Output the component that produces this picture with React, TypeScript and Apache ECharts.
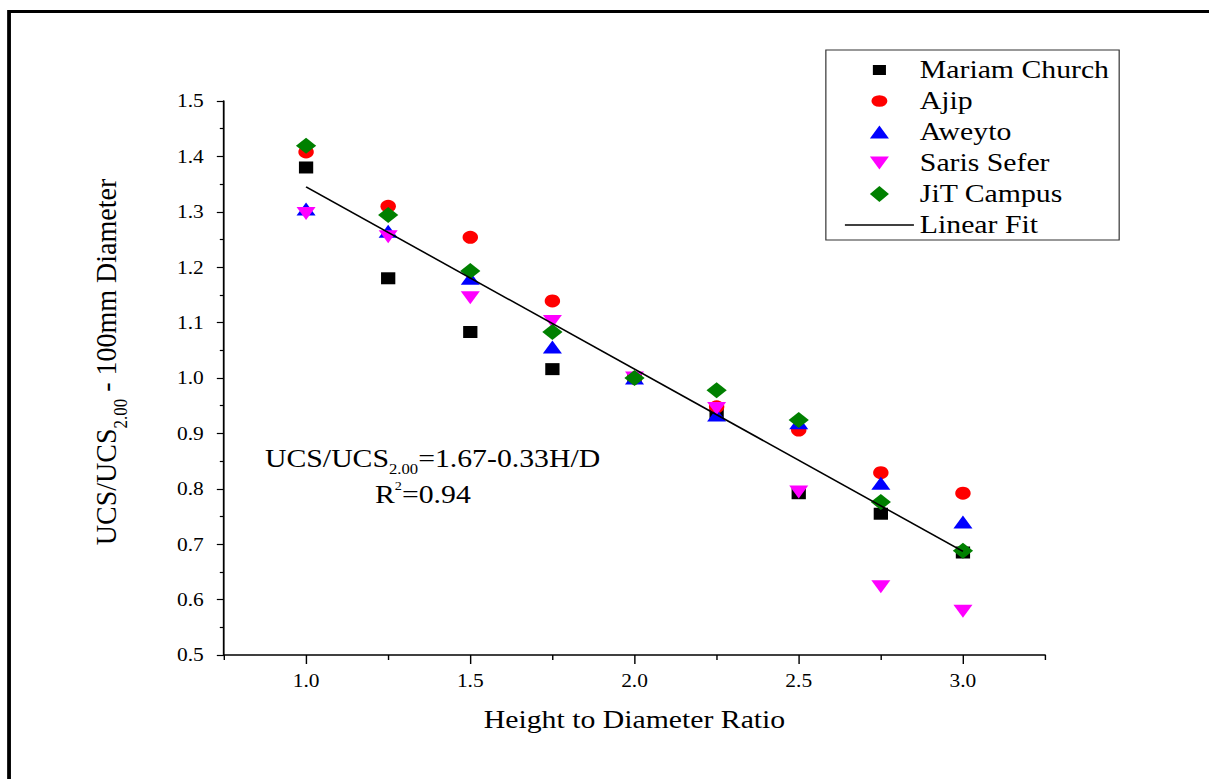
import React, { useEffect, useRef } from "react";
import * as echarts from "echarts";

// The reference picture is horizontally stretched; the chart is drawn at its
// natural width and stretched with a CSS transform.
const STRETCH = 1.19;
const W = 1016;
const H = 779;

const heightToDiameter = [1.0, 1.25, 1.5, 1.75, 2.0, 2.25, 2.5, 2.75, 3.0];
const mariamChurch = [1.38, 1.18, 1.083, 1.016, 1.0, 0.934, 0.792, 0.755, 0.685];
const ajip = [1.408, 1.31, 1.254, 1.139, 1.0, 0.948, 0.906, 0.829, 0.792];
const aweyto = [1.305, 1.265, 1.18, 1.056, 1.0, 0.933, 0.919, 0.81, 0.74];
const sarisSefer = [1.297, 1.255, 1.145, 1.102, 1.0, 0.945, 0.794, 0.623, 0.579];
const jitCampus = [1.419, 1.294, 1.193, 1.083, 1.0, 0.978, 0.924, 0.776, 0.688];

const fitX = [1.0, 3.0];
const fitY = [1.345, 0.687];

const xMajorTicks = [1.0, 1.5, 2.0, 2.5, 3.0];
const seriesNames = ["Mariam Church", "Ajip", "Aweyto", "Saris Sefer", "JiT Campus", "Linear Fit"];

const FONT = "Liberation Serif";

// legend icons (drawn in a 16x16 box so that each keeps its own size)
const ICON_SQUARE = "path://M0,0M16,16M2.5,3L13.5,3L13.5,13L2.5,13Z";
const ICON_CIRCLE = "path://M0,0M16,16M1.3,8A6.7,5.85 0 1 1 14.7,8A6.7,5.85 0 1 1 1.3,8Z";
const ICON_UP = "path://M0,0M16,16M8,1.5L16,14.5L0,14.5Z";
const ICON_DOWN = "path://M0,0M16,16M0,1.5L16,1.5L8,14.5Z";
const ICON_DIAMOND = "path://M8,0L16,8L8,16L0,8Z";
const ICON_LINE = "path://M0,0L58,0L58,1.5L0,1.5Z";
const legendIcons = [ICON_SQUARE, ICON_CIRCLE, ICON_UP, ICON_DOWN, ICON_DIAMOND, ICON_LINE];

function pairs(ys: number[]) {
  return heightToDiameter.map((x, i) => [x, ys[i]]);
}

function buildOption() {
  const tickLine = { color: "#000", width: 1.2 };
  return {
    animation: false,
    backgroundColor: "#ffffff",
    textStyle: { fontFamily: FONT, color: "#000" },
    grid: { left: 188.2, right: W - 878.2, top: 101, bottom: 124, containLabel: false },
    legend: {
      orient: "vertical",
      left: 694,
      top: 50,
      padding: [7.5, 8.5, 2.5, 16],
      itemGap: 6,
      itemWidth: 58,
      itemHeight: 16,
      symbolKeepAspect: true,
      borderColor: "#333",
      borderWidth: 1,
      selectedMode: false,
      data: seriesNames.map((name, i) => ({ name, icon: legendIcons[i] })),
      textStyle: { fontFamily: FONT, fontSize: 25, lineHeight: 25, color: "#000" },
    },
    xAxis: [
      {
        type: "value",
        position: "bottom",
        min: 0.75,
        max: 3.25,
        interval: 0.25,
        axisLine: { show: true, onZero: false, lineStyle: { color: "#000", width: 1.5 } },
        axisTick: { show: true, inside: false, length: 9, customValues: xMajorTicks, lineStyle: tickLine },
        axisLabel: {
          show: true,
          customValues: xMajorTicks,
          margin: 17,
          fontFamily: FONT,
          fontSize: 18,
          color: "#000",
          formatter: (v: number) => v.toFixed(1),
        },
        splitLine: { show: false },
        name: "Height to Diameter Ratio",
        nameLocation: "middle",
        nameGap: 52,
        nameTextStyle: { fontFamily: FONT, fontSize: 25, color: "#000" },
      },
      {
        type: "value",
        position: "bottom",
        min: 0.75,
        max: 3.25,
        interval: 0.5,
        axisLine: { show: false, onZero: false },
        axisTick: { show: true, inside: false, length: 5, lineStyle: tickLine },
        axisLabel: { show: false },
        splitLine: { show: false },
      },
    ],
    yAxis: {
      type: "value",
      min: 0.5,
      max: 1.5,
      interval: 0.1,
      axisLine: { show: true, onZero: false, lineStyle: { color: "#000", width: 1.5 } },
      axisTick: { show: true, inside: false, length: 6, lineStyle: tickLine },
      minorTick: { show: true, splitNumber: 2, length: 3.5, lineStyle: tickLine },
      axisLabel: {
        margin: 17,
        fontFamily: FONT,
        fontSize: 18,
        color: "#000",
        formatter: (v: number) => v.toFixed(1),
      },
      splitLine: { show: false },
      minorSplitLine: { show: false },
    },
    graphic: [
      {
        type: "rect",
        silent: true,
        shape: { x: 7.6, y: 11.5, width: 3000, height: 3000 },
        style: { fill: "none", stroke: "#000", lineWidth: 3.2 },
        z: 0,
      },
      {
        type: "text",
        x: 88.5,
        y: 362,
        rotation: Math.PI / 2,
        scaleY: 0.9,
        style: {
          text: "{a|UCS/UCS}{s|2.00}{a| - 100mm Diameter}",
          align: "center",
          verticalAlign: "middle",
          fontFamily: FONT,
          fontSize: 28,
          fill: "#000",
          rich: {
            a: { fontFamily: FONT, fontSize: 28, fill: "#000" },
            s: { fontFamily: FONT, fontSize: 17, fill: "#000", padding: [28, 0, 0, 0] },
          },
        },
      },
      {
        type: "text",
        x: 222.7,
        y: 459,
        style: {
          text: "{a|UCS/UCS}{s|2.00}{a|=1.67-0.33H/D}",
          align: "left",
          verticalAlign: "middle",
          fontFamily: FONT,
          fontSize: 25,
          fill: "#000",
          rich: {
            a: { fontFamily: FONT, fontSize: 25, fill: "#000" },
            s: { fontFamily: FONT, fontSize: 14, fill: "#000", padding: [20, 0, 0, 0] },
          },
        },
      },
      {
        type: "text",
        x: 315.1,
        y: 495,
        style: {
          text: "{a|R}{p|2}{a|=0.94}",
          align: "left",
          verticalAlign: "middle",
          fontFamily: FONT,
          fontSize: 25,
          fill: "#000",
          rich: {
            a: { fontFamily: FONT, fontSize: 25, fill: "#000" },
            p: { fontFamily: FONT, fontSize: 12, fill: "#000", padding: [0, 0, 18, 0] },
          },
        },
      },
    ],
    series: [
      {
        name: "Mariam Church",
        type: "scatter",
        symbol: "rect",
        symbolSize: [12, 12],
        itemStyle: { color: "#000000", opacity: 1 },
        data: pairs(mariamChurch),
      },
      {
        name: "Ajip",
        type: "scatter",
        symbol: "circle",
        symbolSize: [13, 13],
        itemStyle: { color: "#ff0000", opacity: 1 },
        data: pairs(ajip),
      },
      {
        name: "Aweyto",
        type: "scatter",
        symbol: "triangle",
        symbolSize: [16, 13],
        itemStyle: { color: "#0000ff", opacity: 1 },
        data: pairs(aweyto),
      },
      {
        name: "Saris Sefer",
        type: "scatter",
        symbol: "path://M0,0L10,0L5,10Z",
        symbolSize: [16, 13],
        itemStyle: { color: "#ff00ff", opacity: 1 },
        data: pairs(sarisSefer),
      },
      {
        name: "JiT Campus",
        type: "scatter",
        symbol: "diamond",
        symbolSize: [17, 16],
        itemStyle: { color: "#008000", opacity: 1 },
        data: pairs(jitCampus),
      },
      {
        name: "Linear Fit",
        type: "line",
        symbol: "none",
        showSymbol: false,
        lineStyle: { color: "#000", width: 1.5 },
        itemStyle: { color: "#000" },
        data: fitX.map((x, i) => [x, fitY[i]]),
      },
    ],
  };
}

export default function App() {
  const ref = useRef<HTMLDivElement>(null);
  useEffect(() => {
    if (!ref.current) return;
    const chart = echarts.init(ref.current, null, { renderer: "svg", width: W, height: H });
    chart.setOption(buildOption() as any);
    return () => chart.dispose();
  }, []);
  return (
    <div
      ref={ref}
      style={{
        position: "absolute",
        left: 0,
        top: 0,
        width: W,
        height: H,
        transform: `scaleX(${STRETCH})`,
        transformOrigin: "0 0",
        background: "#fff",
      }}
    />
  );
}
